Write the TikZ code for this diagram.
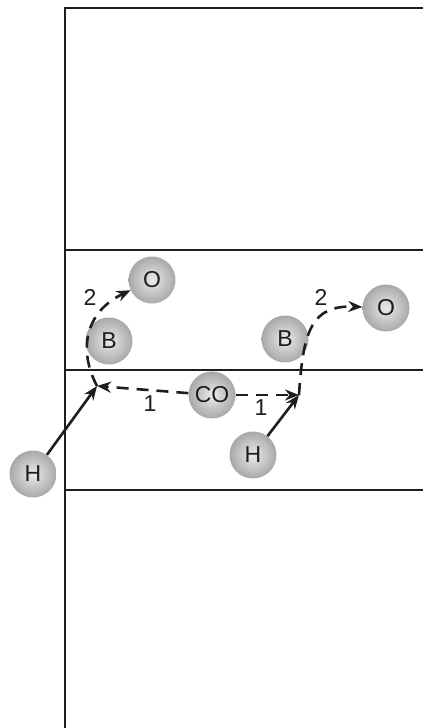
\documentclass[tikz,border=0pt]{standalone}
\usepackage{fontspec}
\setmainfont{Liberation Sans}
\usetikzlibrary{positioning,arrows.meta}
\definecolor{ink}{HTML}{1E1E1E}
\definecolor{ballin}{HTML}{EBEBEB}
\definecolor{ballout}{HTML}{A8A8A8}

\begin{document}
\begin{tikzpicture}[
  x=1pt, y=-1pt,
  font=\fontsize{23}{25}\selectfont,
  player/.style={circle, minimum size=47pt, inner sep=0pt, inner color=ballin, outer color=ballout, text=ink},
  num/.style={text=ink, inner sep=1pt},
  court/.style={draw=ink, line width=2.4pt},
  zone/.style={draw=ink, line width=1.5pt},
  run/.style={-{Stealth[length=14pt, width=11pt]}, line width=2.6pt, draw=ink},
  pass/.style={run, dash pattern=on 12pt off 8pt},
]
\useasboundingbox (0,0) rectangle (423,728);
% court lines
\draw[court] (423,8) -- (65,8) -- (65,728);
\draw[zone] (65,250) -- (423,250);
\draw[zone, line width=2pt] (65,370) -- (423,370);
\draw[zone] (65,490) -- (423,490);
% players
\node[player] (o1) at (152,280) {O};
\node[player] (b1) at (109,341) {B};
\node[player] (b2) at (285,339) {B};
\node[player] (o2) at (386,308) {O};
\node[player] (co) at (212,395) {CO};
\node[player] (h2) at (253,455) {H};
\node[player] (h1) at (33,474) {H};
\coordinate (jl) at (97,386);
\coordinate (jr) at (299,395);
% moves
\draw[pass] (co) -- (jl);
\draw[pass] (co) -- (jr);
\draw[run] (h1) -- (jl);
\draw[run] (h2) -- (jr);
\draw[pass] (jl) .. controls (78,350) and (85,312) .. (o1);
\draw[pass] (jr) .. controls (303,330) and (312,305) .. (o2);
\node[num] (n1) at (150,404) {1};
\node[num] (n2) at (261,408) {1};
\node[num] (n3) at (90,297) {2};
\node[num] (n4) at (321,297) {2};
\end{tikzpicture}
\end{document}
